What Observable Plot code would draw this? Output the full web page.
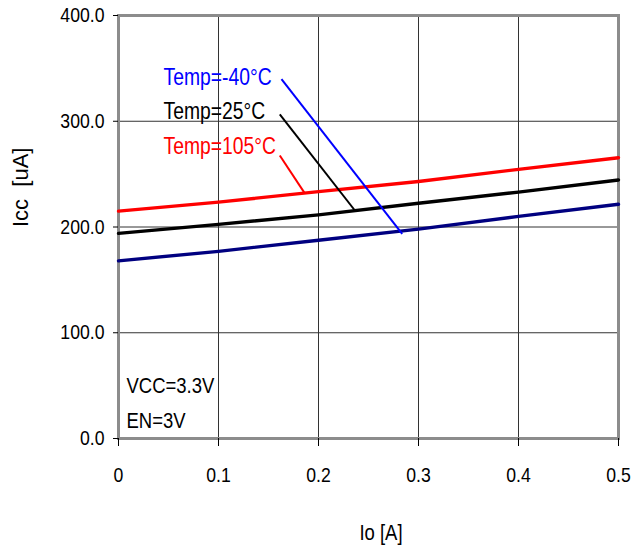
<!DOCTYPE html>
<html>
<head>
<meta charset="utf-8">
<script src="https://cdn.jsdelivr.net/npm/d3@7"></script>
<script src="https://cdn.jsdelivr.net/npm/@observablehq/plot@0.6"></script>
<style>
  html, body { margin: 0; padding: 0; background: #fff; }
  #chart svg { display: block; }
</style>
</head>
<body>
<div id="chart"></div>
<script>
// Data
const io = [0, 0.1, 0.2, 0.3, 0.4, 0.5];
const icc105 = [215, 223.5, 233.5, 243, 254.5, 265.5];
const icc25 = [194, 202.5, 211.5, 222.5, 233, 244.5];
const iccM40 = [168, 177, 187.5, 198, 210, 221.5];

const seriesNames = ["Temp=-40°C", "Temp=25°C", "Temp=105°C"];
const seriesColors = ["#000080", "#000000", "#ff0000"];
const labelColors = ["#0000ff", "#000000", "#ff0000"];

// Annotation label anchor (data units)
const labelX = [0.045, 0.045, 0.045];
const labelY = [341, 309.2, 276.3];
// Leader lines (data units)
const leaderX1 = [0.163, 0.1613, 0.1613];
const leaderY1 = [339.8, 306.4, 267.6];
const leaderX2 = [0.2837, 0.237, 0.186];
const leaderY2 = [193.6, 214.9, 232.3];

const xTicks = [0, 0.1, 0.2, 0.3, 0.4, 0.5];
const yTicks = [0, 100, 200, 300, 400];
const xGrid = [0.1, 0.2, 0.3, 0.4];
const yGrid = [100, 200, 300];

const noteTexts = ["VCC=3.3V", "EN=3V"];
const noteX = [0.008, 0.008];
const noteY = [50.1, 17];

const xTitle = "Io [A]";
const yTitle = "Icc\u00a0\u00a0[uA]";

const rows = [];
[iccM40, icc25, icc105].forEach((arr, s) => {
  arr.forEach((v, i) => rows.push({x: io[i], y: v, s: seriesNames[s]}));
});
const labels = seriesNames.map((n, i) => ({name: n, x: labelX[i], y: labelY[i], c: labelColors[i]}));
const leaders = seriesNames.map((n, i) => ({x1: leaderX1[i], y1: leaderY1[i], x2: leaderX2[i], y2: leaderY2[i], c: labelColors[i]}));
const notes = noteTexts.map((t, i) => ({t, x: noteX[i], y: noteY[i]}));

const sans = "'Liberation Sans', Arial, sans-serif";

const chart = Plot.plot({
  width: 642,
  height: 559,
  marginLeft: 118,
  marginRight: 24,
  marginTop: 15,
  marginBottom: 121,
  style: {fontFamily: sans, fontSize: "21px", color: "#000", background: "#fff"},
  x: {domain: [0, 0.5]},
  y: {domain: [0, 400]},
  color: {domain: seriesNames, range: seriesColors},
  marks: [
    Plot.ruleX(xGrid, {stroke: "#333", strokeWidth: 1}),
    Plot.ruleY(yGrid, {stroke: "#333", strokeWidth: 1}),
    Plot.frame({stroke: "#8c8c8c", strokeWidth: 3}),
    Plot.axisY({ticks: yTicks, tickFormat: d => d.toFixed(1), tickSize: 5, tickPadding: 9, label: null, fontSize: 21, stroke: "#000", className: "narrow"}),
    Plot.axisX({ticks: xTicks, tickFormat: d => d === 0 ? "0" : String(d), tickSize: 8, tickPadding: 21, label: null, fontSize: 21, stroke: "#000", className: "narrow"}),
    Plot.line(rows, {x: "x", y: "y", z: "s", stroke: "s", strokeWidth: 3.4, curve: "linear"}),
    Plot.link(leaders, {x1: "x1", y1: "y1", x2: "x2", y2: "y2", stroke: "c", strokeWidth: 2}),
    Plot.text(labels, {x: "x", y: "y", text: "name", fill: "c", textAnchor: "start", lineAnchor: "middle", fontSize: 23, className: "narrow"}),
    Plot.text(notes, {x: "x", y: "y", text: "t", fill: "#000", textAnchor: "start", lineAnchor: "middle", fontSize: 22, className: "narrow"}),
    Plot.text([xTitle], {frameAnchor: "bottom", text: d => d, dx: 12.5, dy: 94, lineAnchor: "middle", fontSize: 22, fill: "#000", className: "narrow"}),
    Plot.text([yTitle], {frameAnchor: "left", text: d => d, dx: -98, rotate: -90, lineAnchor: "middle", fontSize: 22, fill: "#000"})
  ]
});
document.getElementById("chart").appendChild(chart);
// Condense the Arial-metric text to mimic a narrow face
chart.querySelectorAll(".narrow text").forEach(t => {
  const len = t.getComputedTextLength();
  if (len > 0) {
    t.setAttribute("textLength", (len * 0.84).toFixed(2));
    t.setAttribute("lengthAdjust", "spacingAndGlyphs");
  }
});
</script>
</body>
</html>
